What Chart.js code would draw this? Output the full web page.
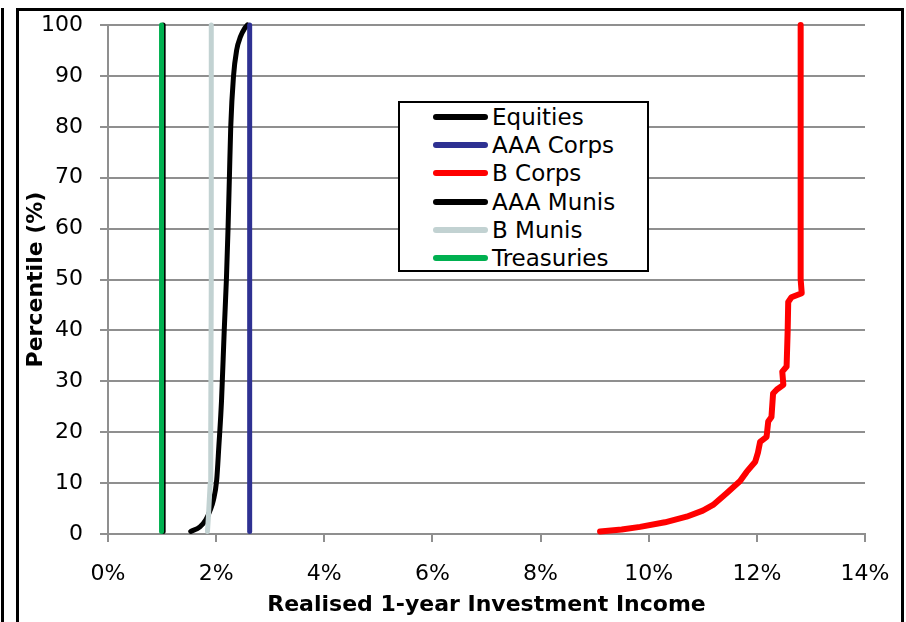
<!DOCTYPE html>
<html>
<head>
<meta charset="utf-8">
<script src="https://cdn.jsdelivr.net/npm/chart.js@4/dist/chart.umd.min.js"></script>
<style>
  html, body { margin: 0; padding: 0; background: #fff; }
  #wrap { position: relative; width: 906px; height: 622px; overflow: hidden; background: #fff; }
  #chart { position: absolute; left: 0; top: 0; }
  #frame { position: absolute; left: 16px; top: 8px; width: 888px; height: 660px; border: 3px solid #000; box-sizing: border-box; pointer-events: none; }
  #edge { position: absolute; left: 1px; top: 8px; width: 3px; height: 660px; background: #000; }
  #legend { position: absolute; left: 398px; top: 101px; width: 251px; height: 171px; border: 2px solid #000; box-sizing: border-box; background: #fff; font-family: 'DejaVu Sans', sans-serif; font-size: 23px; color: #000; }
  .row { display: flex; align-items: center; height: 28.2px; white-space: nowrap; }
  .swatch { width: 55px; height: 6px; border-radius: 3px; margin-left: 33px; margin-right: 4px; flex: none; }
</style>
</head>
<body>
<div id="wrap">
  <canvas id="chart" width="906" height="622"></canvas>
  <div id="edge"></div>
  <div id="frame"></div>
  <div id="legend"></div>
</div>
<script>
// Realised 1-year investment income (%) against percentile (%) for each asset class
const equitiesIncome = [1.53, 1.70, 1.81, 1.89, 1.95, 2.01, 2.05, 2.10, 2.15, 2.19, 2.22, 2.245, 2.27, 2.32, 2.38, 2.45, 2.53, 2.58];
const equitiesPct    = [0.5, 1.4, 2.8, 4.7, 6.7, 10.6, 17.2, 26.3, 40.1, 50.1, 60.0, 70.0, 80.0, 89.8, 95.1, 97.7, 99.4, 100];

const aaaCorpsIncome = [2.62, 2.62];
const aaaCorpsPct    = [0.5, 100];

const bCorpsIncome = [9.10, 9.50, 9.84, 10.30, 10.70, 11.00, 11.19, 11.44, 11.69, 11.81, 11.97, 12.02, 12.06, 12.18, 12.21, 12.27, 12.30, 12.37, 12.49, 12.47, 12.55, 12.57, 12.58, 12.64, 12.83, 12.81, 12.81];
const bCorpsPct    = [0.5, 0.9, 1.4, 2.3, 3.4, 4.6, 5.7, 8.0, 10.4, 12.2, 14.2, 16.0, 18.1, 19.1, 22.1, 23.0, 27.6, 28.4, 29.3, 31.9, 32.9, 40.0, 45.6, 46.5, 47.3, 50.0, 100];

const aaaMunisIncome = [1.02, 1.02];
const aaaMunisPct    = [0.5, 100];

const bMunisIncome = [1.84, 1.86, 1.89, 1.90, 1.91, 1.91];
const bMunisPct    = [0.5, 4, 10, 20, 50, 100];

const treasuriesIncome = [0.99, 0.99];
const treasuriesPct    = [0.5, 100];

const xTicks = [0, 2, 4, 6, 8, 10, 12, 14];
const yTicks = [0, 10, 20, 30, 40, 50, 60, 70, 80, 90, 100];

function points(xs, ys) {
  return xs.map((x, i) => ({ x: x, y: ys[i] }));
}

const GRID = '#8f8f8f';
const FONT = 'DejaVu Sans';

// later series sit on top of earlier ones (lower order is drawn last)
const datasets = [
  { label: 'Equities',   data: points(equitiesIncome, equitiesPct),     borderColor: '#000000', borderWidth: 5, cubicInterpolationMode: 'monotone', order: 5 },
  { label: 'AAA Corps',  data: points(aaaCorpsIncome, aaaCorpsPct),     borderColor: '#2E3192', borderWidth: 5, order: 4 },
  { label: 'B Corps',    data: points(bCorpsIncome, bCorpsPct),         borderColor: '#FF0000', borderWidth: 6, order: 3 },
  { label: 'AAA Munis',  data: points(aaaMunisIncome, aaaMunisPct),     borderColor: '#000000', borderWidth: 5, order: 2 },
  { label: 'B Munis',    data: points(bMunisIncome, bMunisPct),         borderColor: '#C2D2D2', borderWidth: 5, order: 1 },
  { label: 'Treasuries', data: points(treasuriesIncome, treasuriesPct), borderColor: '#00B050', borderWidth: 5, order: 0 }
].map(d => Object.assign({
  showLine: true,
  pointRadius: 0,
  pointHoverRadius: 0,
  borderCapStyle: 'round',
  borderJoinStyle: 'round',
  tension: 0,
  clip: false,
  backgroundColor: d.borderColor
}, d));

const chart = new Chart(document.getElementById('chart'), {
  type: 'scatter',
  data: { datasets: datasets },
  options: {
    responsive: false,
    animation: false,
    events: [],
    layout: { padding: { left: 19, top: 25, right: 41, bottom: 0 } },
    plugins: { legend: { display: false }, tooltip: { enabled: false } },
    scales: {
      x: {
        type: 'linear',
        min: xTicks[0],
        max: xTicks[xTicks.length - 1],
        afterBuildTicks: s => { s.ticks = xTicks.map(v => ({ value: v })); },
        afterFit: s => { s.height = 88; s.paddingLeft = 0; s.paddingRight = 0; },
        ticks: { callback: v => v + '%', color: '#000', font: { family: FONT, size: 22 }, padding: 19, maxRotation: 0, autoSkip: false },
        grid: { drawOnChartArea: false, drawTicks: true, tickLength: 8, color: GRID, lineWidth: 2 },
        border: { display: true, color: GRID, width: 2 },
        title: { display: true, text: 'Realised 1-year Investment Income', color: '#000', font: { family: FONT, size: 22, weight: 'bold' } }
      },
      y: {
        type: 'linear',
        min: yTicks[0],
        max: yTicks[yTicks.length - 1],
        afterBuildTicks: s => { s.ticks = yTicks.map(v => ({ value: v })); },
        afterFit: s => { s.width = 89; s.paddingTop = 0; s.paddingBottom = 0; },
        ticks: { color: '#000', font: { family: FONT, size: 22 }, padding: 17, autoSkip: false },
        grid: { drawOnChartArea: true, drawTicks: true, tickLength: 8, color: GRID, lineWidth: 2 },
        border: { display: true, color: GRID, width: 2 },
        title: { display: true, text: 'Percentile (%)', color: '#000', font: { family: FONT, size: 22, weight: 'bold' } }
      }
    }
  }
});

// legend entries built from the chart's own datasets, in series order
const legend = document.getElementById('legend');
chart.data.datasets.forEach(ds => {
  const row = document.createElement('div');
  row.className = 'row';
  const sw = document.createElement('span');
  sw.className = 'swatch';
  sw.style.background = ds.borderColor;
  const txt = document.createElement('span');
  txt.textContent = ds.label;
  row.appendChild(sw);
  row.appendChild(txt);
  legend.appendChild(row);
});
</script>
</body>
</html>
